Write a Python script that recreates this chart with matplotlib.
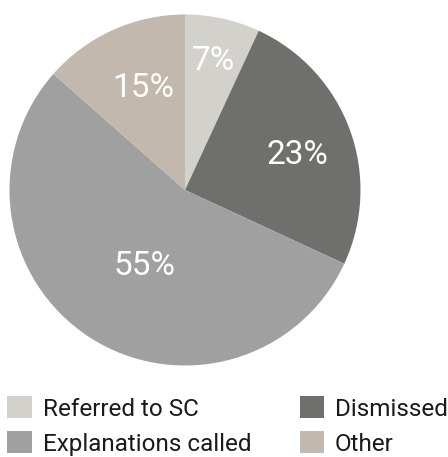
import matplotlib
matplotlib.use('Agg')
import matplotlib.pyplot as plt
from matplotlib.patches import Patch
import numpy as np

categories = ['Referred to SC', 'Dismissed', 'Explanations called', 'Other']
shares = [6.9, 25.0, 54.6, 13.5]          # slice sizes as drawn
pct_labels = ['7%', '23%', '55%', '15%']  # printed labels
colors = ['#d3d1cb', '#6f706e', '#a0a0a0', '#c2b8ae']

# label placement (fraction of radius, angle nudge in degrees)
label_r = [0.75, 0.67, 0.49, 0.63]
label_dt = [0, -3, 5, -2]

plt.rcParams['font.family'] = ['Roboto', 'DejaVu Sans']

fig = plt.figure(figsize=(4.48, 4.57), dpi=100)
ax = fig.add_axes([9.5 / 448, 91.5 / 457, 351 / 448, 351 / 457])

wedges, _ = ax.pie(shares, colors=colors, startangle=90, counterclock=False,
                   radius=1, wedgeprops=dict(linewidth=0))

for w, lab, r, dt in zip(wedges, pct_labels, label_r, label_dt):
    mid = np.deg2rad((w.theta1 + w.theta2) / 2 + dt)
    ax.text(r * np.cos(mid), r * np.sin(mid), lab, ha='center', va='center',
            color='white', fontsize=24, fontweight='normal')

ax.set_xlim(-1, 1)
ax.set_ylim(-1, 1)
ax.set_aspect('equal')
ax.axis('off')

# legend order: row-wise (Referred, Dismissed / Explanations, Other)
handles = [Patch(facecolor=c, edgecolor='none') for c in colors]
order = [0, 2, 1, 3]
fig.legend([handles[i] for i in order], [categories[i] for i in order],
           ncol=2, loc='lower left', bbox_to_anchor=(0.0, -0.013),
           frameon=False, fontsize=17.5, handlelength=1.0, handleheight=1.0,
           handletextpad=0.45, columnspacing=2.0, labelspacing=0.45,
           borderpad=0.3, borderaxespad=0.0, labelcolor='#1a1a1a')

fig.savefig('out.png', dpi=100)
